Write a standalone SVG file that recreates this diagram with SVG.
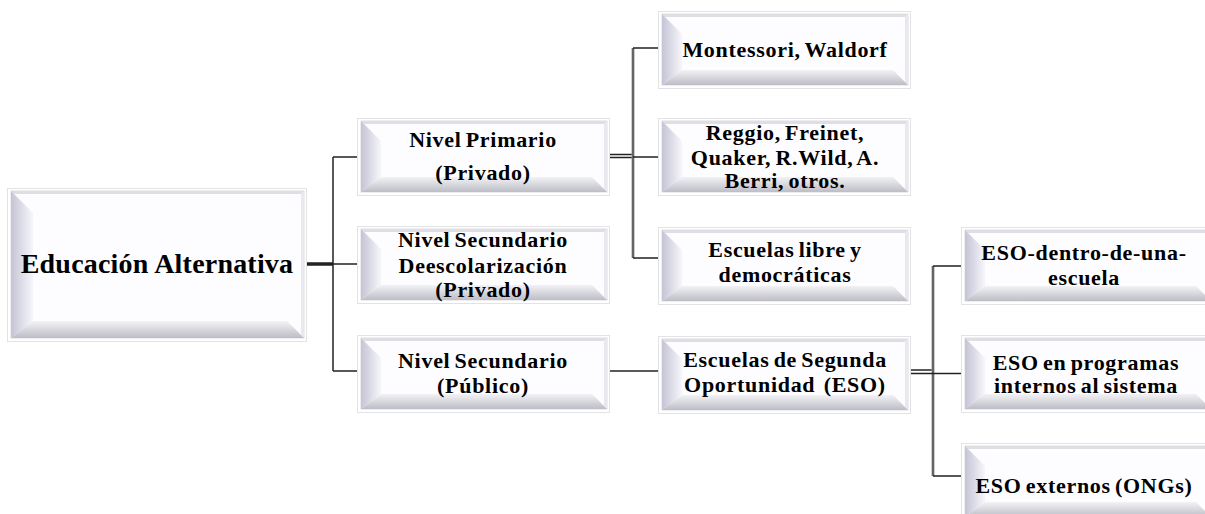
<svg xmlns="http://www.w3.org/2000/svg" width="1205" height="514" viewBox="0 0 1205 514">
<style>
text{font-family:"Liberation Serif","Times New Roman",serif;font-weight:bold;fill:#000;text-anchor:middle;font-size:22px;letter-spacing:0.7px;word-spacing:-2px}
.main{font-size:28px;letter-spacing:0.2px;word-spacing:0}
.ln{fill:none;stroke:#222;stroke-width:1.5}
.vg{fill:none;stroke:#9a9a9a;stroke-width:3}
.vd{fill:none;stroke:#444;stroke-width:1.2}
</style>
<defs>
<linearGradient id="lg" x1="0" y1="0" x2="1" y2="0"><stop offset="0" stop-color="#c4c4d6"/><stop offset="1" stop-color="#f6f6fa"/></linearGradient>
<linearGradient id="bg" x1="0" y1="0" x2="0" y2="1"><stop offset="0" stop-color="#f2f2f6"/><stop offset="1" stop-color="#bdbdc6"/></linearGradient>
<g id="box">
<rect x="0.5" y="0.5" width="252" height="77" fill="#fff" stroke="#e3e3e6"/>
<rect x="4" y="3" width="246" height="71" fill="#fdfdff" stroke="#d4d4da" stroke-width="0.8"/>
<polygon points="4,3 250,3 247,6 7,6" fill="#dedee4"/>
<polygon points="250,3 250,74 247,71 247,6" fill="#e8e8ee"/>
<polygon points="4,3 24,23 24,59 4,74" fill="url(#lg)"/>
<polygon points="4,74 24,59 235,59 250,74" fill="url(#bg)"/>
</g>
</defs>
<rect width="1205" height="514" fill="#fff"/>
<g id="connectors">
<path d="M307 264 H333" fill="none" stroke="#222" stroke-width="3.5"/>
<path class="ln" d="M333 264 H357 M333 157 V371 M333 157 H357 M333 371 H357"/>
<path class="ln" d="M610 154.5 H633 M610 157.5 H633" stroke-width="1.2"/>
<path class="vg" d="M633 48 V258"/>
<path class="vd" d="M633 48 V258"/>
<path class="ln" d="M633 48 H658 M633 157 H658 M633 258 H658"/>
<path class="ln" d="M610 371 H658"/>
<path class="ln" d="M910 370 H933" stroke="#555"/>
<path class="vg" d="M933 266 V476"/>
<path class="vd" d="M933 266 V476"/>
<path class="ln" d="M910 373.5 H961 M933 266 H961 M933 476 H961"/>
</g>
<g id="n-main">
<rect x="7.5" y="188.5" width="299" height="153" fill="#fff" stroke="#e3e3e6"/>
<rect x="11" y="191" width="293" height="147" fill="#fdfdff" stroke="#d4d4da" stroke-width="0.8"/>
<polygon points="11,191 304,191 301,194 14,194" fill="#dedee4"/>
<polygon points="304,191 304,338 301,335 301,194" fill="#e8e8ee"/>
<polygon points="11,191 33,213 33,321 11,338" fill="url(#lg)"/>
<polygon points="11,338 33,321 287,321 304,338" fill="url(#bg)"/>
<text class="main" x="157" y="273">Educación Alternativa</text>
</g>
<g id="n-primario">
<use href="#box" x="357" y="118"/>
<text x="483" y="147">Nivel Primario</text>
<text x="483" y="180">(Privado)</text>
</g>
<g id="n-desesc">
<use href="#box" x="357" y="226"/>
<text x="483" y="247">Nivel Secundario</text>
<text x="483" y="273">Deescolarización</text>
<text x="483" y="297">(Privado)</text>
</g>
<g id="n-publico">
<use href="#box" x="357" y="335"/>
<text x="483" y="368">Nivel Secundario</text>
<text x="483" y="393">(Público)</text>
</g>
<g id="n-montessori">
<use href="#box" x="658" y="11"/>
<text x="785" y="57">Montessori, Waldorf</text>
</g>
<g id="n-reggio">
<use href="#box" x="658" y="118"/>
<text x="785" y="140">Reggio, Freinet,</text>
<text x="785" y="165">Quaker, R.Wild, A.</text>
<text x="785" y="188">Berri, otros.</text>
</g>
<g id="n-libres">
<use href="#box" x="658" y="227"/>
<text x="785" y="257">Escuelas libre y</text>
<text x="785" y="282">democráticas</text>
</g>
<g id="n-eso">
<use href="#box" x="658" y="336"/>
<text x="785" y="367">Escuelas de Segunda</text>
<text x="785" y="392">Oportunidad&#160; (ESO)</text>
</g>
<g id="n-eso-dentro">
<use href="#box" x="961" y="227"/>
<text x="1084" y="260">ESO-dentro-de-una-</text>
<text x="1084" y="285">escuela</text>
</g>
<g id="n-eso-internos">
<use href="#box" x="961" y="335"/>
<text x="1086" y="370">ESO en programas</text>
<text x="1086" y="393">internos al sistema</text>
</g>
<g id="n-eso-externos">
<use href="#box" x="961" y="443"/>
<text x="1084" y="493">ESO externos (ONGs)</text>
</g>
</svg>
